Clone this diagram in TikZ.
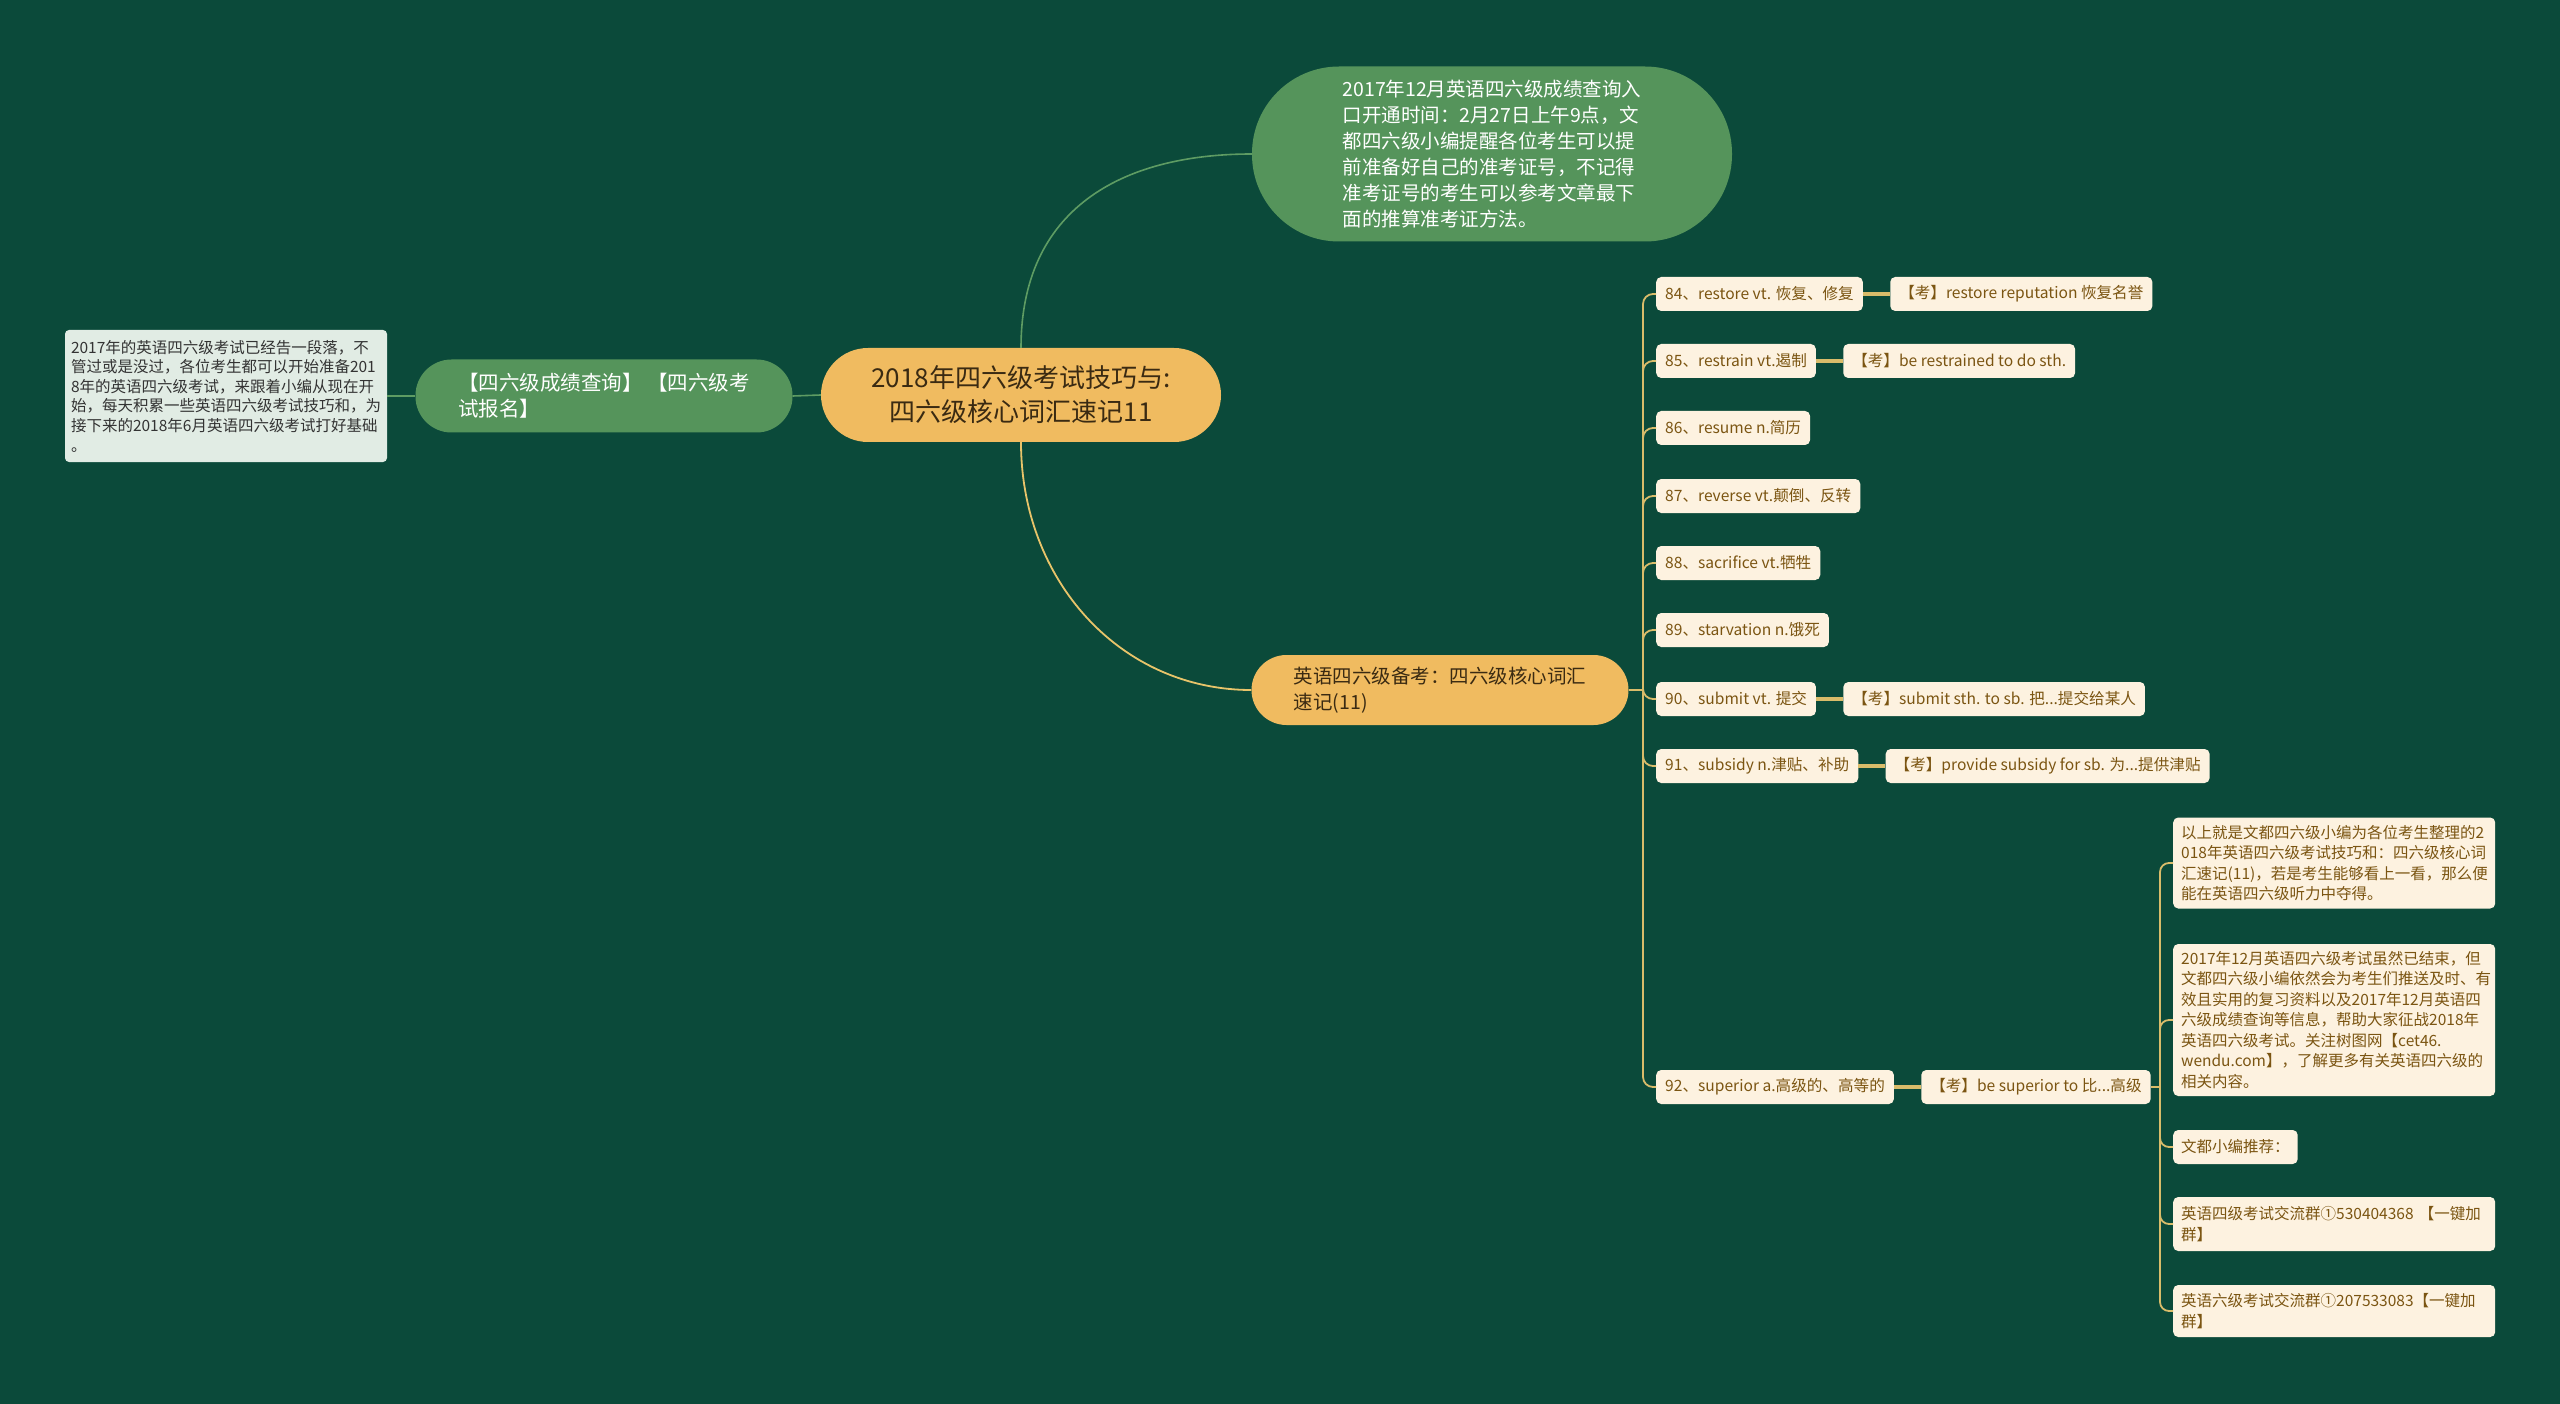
\documentclass[tikz,border=0pt]{standalone}
\usepackage{fontspec}
\setmainfont{Noto Sans CJK SC}
\usetikzlibrary{positioning}
\definecolor{bgc}{HTML}{0B4A3A}
\definecolor{ngreen}{HTML}{55945B}
\definecolor{norange}{HTML}{F0BB60}
\definecolor{nbeige}{HTML}{FDF2E0}
\definecolor{tbrown}{HTML}{7B5512}
\definecolor{tcenter}{HTML}{3A2A12}
\definecolor{nnote}{HTML}{E1ECE4}
\definecolor{tnote}{HTML}{333333}
\definecolor{lgreen}{HTML}{5E9C63}
\definecolor{lyellow}{HTML}{E8C46A}
\definecolor{ltree}{HTML}{D9BC6A}
\newcommand\fsz[2]{\fontsize{#1}{#2}\selectfont}
\begin{document}
\begin{tikzpicture}[x=1pt,y=-1pt,
  centerbox/.style={fill=norange, text=tcenter, rounded corners=47pt, minimum width=400pt, minimum height=94pt, align=center, font=\fsz{26}{34}},
  topbox/.style={fill=ngreen, text=white, rounded corners=87pt, minimum width=480pt, minimum height=175pt, align=left, font=\fsz{19.5}{26}},
  lgbox/.style={fill=ngreen, text=white, rounded corners=36pt, minimum width=377pt, minimum height=73pt, align=left, font=\fsz{20.5}{26}},
  notebox/.style={fill=nnote, text=tnote, rounded corners=4pt, minimum width=322pt, minimum height=132pt, align=left, font=\fsz{15.5}{19.6}},
  obox/.style={fill=norange, text=tcenter, rounded corners=35pt, minimum width=377pt, minimum height=70pt, align=left, font=\fsz{19.5}{26}},
  wbox/.style={fill=nbeige, text=tbrown, rounded corners=5pt, inner xsep=9pt, inner ysep=0pt, minimum height=34pt, anchor=west, font=\fsz{15.6}{18}},
  rbox/.style={fill=nbeige, text=tbrown, rounded corners=5pt, inner xsep=8pt, inner ysep=0pt, text width=306pt, align=left, anchor=west, font=\fsz{15.5}{20.5}},
  rsmall/.style={fill=nbeige, text=tbrown, rounded corners=5pt, inner xsep=8pt, inner ysep=0pt, minimum height=34pt, anchor=west, font=\fsz{15.5}{20.5}},
  gline/.style={draw=lgreen, line width=1.6pt},
  yline/.style={draw=lyellow, line width=1.8pt},
  tline/.style={draw=ltree, line width=1.8pt},
  kline/.style={draw=ltree, line width=3.5pt}]
\fill[bgc] (0,0) rectangle (2560,1404);
\useasboundingbox (0,0) rectangle (2560,1404);

% main nodes
\node[centerbox] (c) at (1021,395) {2018年四六级考试技巧与:\\四六级核心词汇速记11};
\node[topbox] (t) at (1492,154) {2017年12月英语四六级成绩查询入\\口开通时间：2月27日上午9点，文\\都四六级小编提醒各位考生可以提\\前准备好自己的准考证号，不记得\\准考证号的考生可以参考文章最下\\面的推算准考证方法。};
\node[lgbox] (lg) at (604,396) {【四六级成绩查询】 【四六级考\\试报名】};
\node[notebox] (note) at (226,396) {2017年的英语四六级考试已经告一段落，不\\管过或是没过，各位考生都可以开始准备201\\8年的英语四六级考试，来跟着小编从现在开\\始，每天积累一些英语四六级考试技巧和，为\\接下来的2018年6月英语四六级考试打好基础\\。};
\node[obox] (o) at (1440,690) {英语四六级备考：四六级核心词汇\\速记(11)};

% word nodes
\node[wbox] (w84) at (1656,294) {84、restore vt. 恢复、修复};
\node[wbox, right=27pt of w84] (k84) {【考】restore reputation 恢复名誉};
\node[wbox] (w85) at (1656,361) {85、restrain vt.遏制};
\node[wbox, right=27pt of w85] (k85) {【考】be restrained to do sth.};
\node[wbox] (w86) at (1656,428) {86、resume n.简历};
\node[wbox] (w87) at (1656,496) {87、reverse vt.颠倒、反转};
\node[wbox] (w88) at (1656,563) {88、sacrifice vt.牺牲};
\node[wbox] (w89) at (1656,630) {89、starvation n.饿死};
\node[wbox] (w90) at (1656,699) {90、submit vt. 提交};
\node[wbox, right=27pt of w90] (k90) {【考】submit sth. to sb. 把...提交给某人};
\node[wbox] (w91) at (1656,766) {91、subsidy n.津贴、补助};
\node[wbox, right=27pt of w91] (k91) {【考】provide subsidy for sb. 为...提供津贴};
\node[wbox] (w92) at (1656,1087) {92、superior a.高级的、高等的};
\node[wbox, right=27pt of w92] (k92) {【考】be superior to 比...高级};

% right column
\node[rbox, minimum height=91pt] (r1) at (2173,863) {以上就是文都四六级小编为各位考生整理的2\\018年英语四六级考试技巧和：四六级核心词\\汇速记(11)，若是考生能够看上一看，那么便\\能在英语四六级听力中夺得。};
\node[rbox, minimum height=152pt] (r2) at (2173,1020) {2017年12月英语四六级考试虽然已结束，但\\文都四六级小编依然会为考生们推送及时、有\\效且实用的复习资料以及2017年12月英语四\\六级成绩查询等信息，帮助大家征战2018年\\英语四六级考试。关注树图网【cet46.\\wendu.com】，了解更多有关英语四六级的\\相关内容。};
\node[rsmall] (r3) at (2173,1147) {文都小编推荐：};
\node[rbox, minimum height=54pt] (r4) at (2173,1224) {英语四级考试交流群①530404368 【一键加\\群】};
\node[rbox, minimum height=52pt] (r5) at (2173,1311) {英语六级考试交流群①207533083【一键加\\群】};

% connectors
\draw[gline] (c.west) -- (lg.east);
\draw[gline] (lg.west) -- (note.east);
\draw[gline] (c.north) .. controls (1021,210) and (1120,154) .. (t.west);
\draw[yline] (c.south) .. controls (1021,580) and (1120,690) .. (o.west);
\coordinate (ot) at (1643,690);
\draw[tline] (o.east) -- (ot);
\foreach \n in {w84,w85,w86,w87,w88,w89,w90,w91,w92}
  \draw[tline, rounded corners=10pt] (ot) |- (\n.west);
\draw[kline] (w84) -- (k84);
\draw[kline] (w85) -- (k85);
\draw[kline] (w90) -- (k90);
\draw[kline] (w91) -- (k91);
\draw[kline] (w92) -- (k92);
\coordinate (rt) at (2160,1087);
\draw[tline] (k92.east) -- (rt);
\foreach \n in {r1,r2,r3,r4,r5}
  \draw[tline, rounded corners=9pt] (rt) |- (\n.west);
\end{tikzpicture}
\end{document}
